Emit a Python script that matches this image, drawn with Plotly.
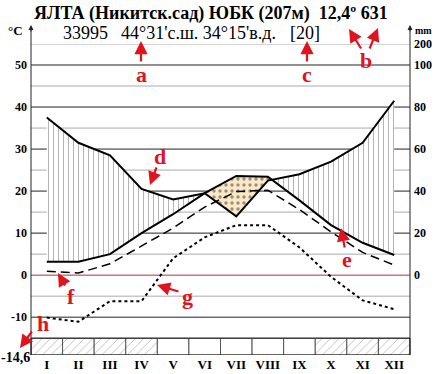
import plotly.graph_objects as go

# ---------------- data ----------------
months = ["I", "II", "III", "IV", "V", "VI", "VII", "VIII", "IX", "X", "XI", "XII"]
temp_mean = [3.2, 3.2, 5.0, 10.0, 14.5, 19.5, 23.6, 23.4, 17.8, 11.9, 7.7, 4.8]
precip_mm = [75, 63, 57, 41, 36, 39, 28, 45, 48, 54, 63, 83]
temp_min_mean = [0.9, 0.5, 2.7, 7.0, 11.2, 16.2, 19.9, 20.2, 15.6, 10.3, 5.4, 2.4]
temp_abs_min = [-10.1, -11.1, -6.2, -6.2, 4.0, 9.0, 11.9, 11.9, 6.6, -0.4, -6.0, -8.1]
left_ticks = [-10, 0, 10, 20, 30, 40, 50]
right_tick_mm = [0, 20, 40, 60, 80, 100, 200]

title_text = "<b>ЯЛТА (Никитск.сад) ЮБК (207м)  12,4º 631</b>"
station_id = "33995"
coords_text = "44°31'с.ш. 34°15'в.д."
years_text = "[20]"
abs_min_text = "<b>-14,6</b>"

# ---------------- geometry helpers ----------------
W, H = 436, 374
L, R, T, B = 31, 410, 44, 355
YMIN, YMAX = -19, 55
BAND_TOP = -15

def px(xp):
    return (xp - L) / (R - L)

def py(yp):
    return (B - yp) / (B - T)

def mm_to_t(p):
    return p / 2.0 if p <= 100 else 50 + (p - 100) / 20.0

x = list(range(1, 13))
precip_t = [mm_to_t(p) for p in precip_mm]

def regions(xv, a, b):
    pts = []
    for i in range(len(xv)):
        d = a[i] - b[i]
        pts.append((xv[i], a[i], b[i], d))
        if i < len(xv) - 1:
            d2 = a[i + 1] - b[i + 1]
            if d * d2 < 0:
                t = d / (d - d2)
                xc = xv[i] + t * (xv[i + 1] - xv[i])
                yc = a[i] + t * (a[i + 1] - a[i])
                pts.append((xc, yc, yc, 0.0))
    polys, run = [], []
    for p in pts:
        if p[3] >= 0:
            run.append(p)
        else:
            if len(run) >= 2 and any(q[3] > 0 for q in run):
                polys.append(run)
            run = []
    if len(run) >= 2 and any(q[3] > 0 for q in run):
        polys.append(run)
    out = []
    for r in polys:
        xs = [q[0] for q in r] + [q[0] for q in reversed(r)]
        ys = [q[1] for q in r] + [q[2] for q in reversed(r)]
        out.append((xs, ys))
    return out

fig = go.Figure()

# bottom band (frost months hatched)
for i, m in enumerate(x):
    hatched = temp_abs_min[i] < 0
    fig.add_trace(go.Scatter(
        x=[m - 0.5, m + 0.5, m + 0.5, m - 0.5, m - 0.5],
        y=[BAND_TOP, BAND_TOP, YMIN, YMIN, BAND_TOP],
        mode="lines", fill="toself",
        fillcolor="white",
        fillpattern=dict(shape="/", size=6, solidity=0.12, fgcolor="#555", bgcolor="white") if hatched else None,
        line=dict(color="#555", width=1), hoverinfo="skip", showlegend=False))

# humid areas (vertical hatching)
for xs, ys in regions(x, precip_t, temp_mean):
    fig.add_trace(go.Scatter(
        x=xs, y=ys, mode="lines", fill="toself", line=dict(width=0, color="rgba(0,0,0,0)"),
        fillpattern=dict(shape="|", size=5, solidity=0.16, fgcolor="#444", bgcolor="white"),
        hoverinfo="skip", showlegend=False))

# arid areas (dotted)
for xs, ys in regions(x, temp_mean, precip_t):
    fig.add_trace(go.Scatter(
        x=xs, y=ys, mode="lines", fill="toself", line=dict(width=0, color="rgba(0,0,0,0)"),
        fillpattern=dict(shape=".", size=6, solidity=0.25, fgcolor="#333", bgcolor="#fbe9c6"),
        hoverinfo="skip", showlegend=False))

# curves
fig.add_trace(go.Scatter(x=x, y=temp_abs_min, mode="lines",
                         line=dict(color="black", width=2, dash="dot"), showlegend=False))
fig.add_trace(go.Scatter(x=x, y=temp_min_mean, mode="lines",
                         line=dict(color="black", width=1.5, dash="9px,5px"), showlegend=False))
fig.add_trace(go.Scatter(x=x, y=temp_mean, mode="lines",
                         line=dict(color="black", width=2), showlegend=False))
fig.add_trace(go.Scatter(x=x, y=precip_t, mode="lines",
                         line=dict(color="black", width=2), showlegend=False))
# invisible trace for right axis
fig.add_trace(go.Scatter(x=[1], y=[0], yaxis="y2", mode="markers",
                         marker=dict(opacity=0), hoverinfo="skip", showlegend=False))

shapes = []
# gridlines
for v in [-10, 10, 20, 30, 40, 50]:
    shapes.append(dict(type="line", xref="paper", yref="y", x0=0, x1=1, y0=v, y1=v,
                       line=dict(color="#222", width=1), layer="below"))
for v in [-5, 5, 15, 25, 35, 45, 55]:
    shapes.append(dict(type="line", xref="paper", yref="y", x0=0, x1=1, y0=v, y1=v,
                       line=dict(color="#aaa", width=1), layer="below"))
shapes.append(dict(type="line", xref="paper", yref="y", x0=0, x1=1, y0=0, y1=0,
                   line=dict(color="#a33a3a", width=1), layer="below"))
# band outline
shapes.append(dict(type="rect", xref="paper", yref="y", x0=0, x1=1, y0=YMIN, y1=BAND_TOP,
                   line=dict(color="#222", width=1)))
# axes lines with extension
for xp in [0, 1]:
    shapes.append(dict(type="line", xref="paper", yref="paper", x0=xp, x1=xp, y0=0, y1=py(29),
                       line=dict(color="#222", width=1)))

serif = "Liberation Serif, Times New Roman, serif"
red = "#e0141e"
ann = []

def text_ann(xp, yp, text, size, color="black"):
    ann.append(dict(x=px(xp), y=py(yp), xref="paper", yref="paper", text=text, showarrow=False,
                    xanchor="center", yanchor="middle",
                    font=dict(family=serif, size=size, color=color)))

text_ann(211, 13, title_text, 18)
text_ann(85, 33, station_id, 18)
text_ann(198, 33, coords_text, 18)
text_ann(305, 33, years_text, 18)
text_ann(16, 30, "<b>°C</b>", 13)
text_ann(423, 30, "<b>mm</b>", 10)
text_ann(15, 358, abs_min_text, 14)

# axis arrow heads
for xa in [L, R]:
    ann.append(dict(x=px(xa), y=py(25), xref="paper", yref="paper", ax=0, ay=8, text="",
                    showarrow=True, arrowhead=2, arrowsize=1, arrowwidth=1, arrowcolor="#222"))

letters = [("a", 141, 74), ("c", 307, 74), ("b", 366, 60), ("d", 160, 156), ("e", 347, 259),
           ("f", 71, 296), ("g", 187, 296), ("h", 43, 323)]
for t, lx, ly in letters:
    text_ann(lx, ly, "<b>%s</b>" % t, 22, red)
arrows = [((141, 63), (141, 41)), ((307, 63), (307, 41)), ((362, 50), (349, 29)),
          ((369, 50), (378, 28)), ((157, 166), (150, 185)), ((345, 249), (341, 228)),
          ((66, 287), (58, 273)), ((180, 292), (157, 285)), ((33, 330), (20, 348))]
for (tx, ty), (hx, hy) in arrows:
    ann.append(dict(x=px(hx), y=py(hy), xref="paper", yref="paper", ax=tx - hx, ay=ty - hy,
                    text="", showarrow=True, arrowhead=2, arrowsize=1.2, arrowwidth=2.2,
                    arrowcolor=red, standoff=0))

bold = lambda s: "<b>%s</b>" % s
fig.update_layout(
    width=W, height=H,
    margin=dict(l=L, r=W - R, t=T, b=H - B, pad=0, autoexpand=False),
    paper_bgcolor="white", plot_bgcolor="white",
    showlegend=False,
    shapes=shapes, annotations=ann,
    xaxis=dict(range=[0.5, 12.5], tickvals=x, ticktext=[bold(m) for m in months], showgrid=False,
               zeroline=False, showline=False, ticks="", automargin=False,
               tickfont=dict(family=serif, size=13, color="black")),
    yaxis=dict(range=[YMIN, YMAX], tickvals=left_ticks, ticktext=[bold(v) for v in left_ticks],
               showgrid=False, zeroline=False, automargin=False,
               showline=False, ticks="", ticklabelstandoff=3,
               tickfont=dict(family=serif, size=12, color="black")),
    yaxis2=dict(range=[YMIN, YMAX], overlaying="y", side="right", automargin=False,
                tickvals=[mm_to_t(v) for v in right_tick_mm], ticktext=[bold(v) for v in right_tick_mm],
                showgrid=False, zeroline=False, showline=False, ticks="", ticklabelstandoff=3,
                tickfont=dict(family=serif, size=12, color="black")),
)

fig.write_html("out.html", config={"displayModeBar": False},
               post_script="document.body.style.margin='0px';")
